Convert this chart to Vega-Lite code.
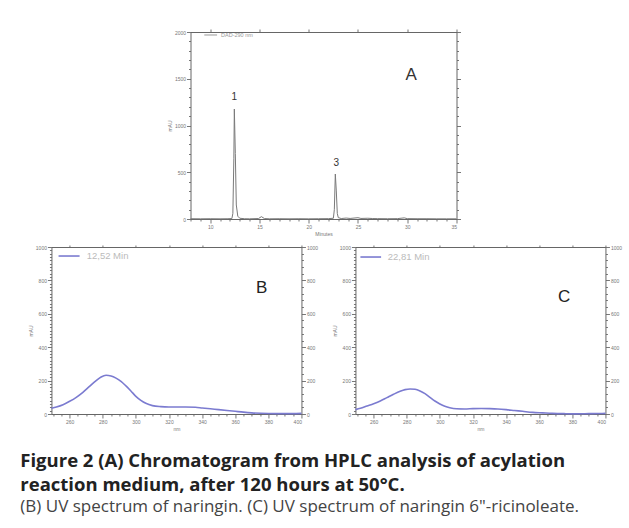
{
  "$schema": "https://vega.github.io/schema/vega-lite/v6.json",
  "padding": {"left": 20, "top": 28, "right": 2, "bottom": 2},
  "background": "white",
  "config": {
    "view": {"stroke": null},
    "font": "Liberation Sans",
    "axis": {
      "grid": false, "labelFont": "Liberation Sans", "titleFont": "Liberation Sans",
      "labelFontSize": 5, "titleFontSize": 5, "labelColor": "#777", "titleColor": "#777",
      "titleFontWeight": "normal", "tickColor": "#777", "domainColor": "#666",
      "labelPadding": 1, "titlePadding": 2, "labelOverlap": false, "format": "d"
    }
  },
  "datasets": {
    "chrom": [
      {"t": 8, "mAU": 3}, {"t": 9, "mAU": 2}, {"t": 10, "mAU": 3}, {"t": 11, "mAU": 2}, {"t": 11.8, "mAU": 3},
      {"t": 12.2, "mAU": 5}, {"t": 12.3, "mAU": 60}, {"t": 12.4, "mAU": 650}, {"t": 12.45, "mAU": 1176},
      {"t": 12.55, "mAU": 700}, {"t": 12.65, "mAU": 150}, {"t": 12.8, "mAU": 30}, {"t": 13, "mAU": 8},
      {"t": 13.5, "mAU": 3}, {"t": 14, "mAU": 2}, {"t": 14.9, "mAU": 5}, {"t": 15.2, "mAU": 25}, {"t": 15.5, "mAU": 5},
      {"t": 16, "mAU": 2}, {"t": 17, "mAU": 3}, {"t": 18, "mAU": 2}, {"t": 19, "mAU": 3}, {"t": 20, "mAU": 2},
      {"t": 21, "mAU": 3}, {"t": 22, "mAU": 4}, {"t": 22.5, "mAU": 8}, {"t": 22.6, "mAU": 100}, {"t": 22.7, "mAU": 481},
      {"t": 22.8, "mAU": 300}, {"t": 22.9, "mAU": 60}, {"t": 23.0, "mAU": 15}, {"t": 23.3, "mAU": 5}, {"t": 23.8, "mAU": 10},
      {"t": 24.2, "mAU": 6}, {"t": 25, "mAU": 14}, {"t": 25.3, "mAU": 6}, {"t": 26, "mAU": 8}, {"t": 26.5, "mAU": 5},
      {"t": 27, "mAU": 4}, {"t": 28, "mAU": 3}, {"t": 29, "mAU": 4}, {"t": 29.7, "mAU": 12}, {"t": 30, "mAU": 4},
      {"t": 31, "mAU": 3}, {"t": 32, "mAU": 3}, {"t": 33, "mAU": 2}, {"t": 34, "mAU": 2}, {"t": 35, "mAU": 2}
    ],
    "labA": [
      {"x": 12.45, "y": 1300, "label": "1", "size": 10},
      {"x": 22.8, "y": 600, "label": "3", "size": 10},
      {"x": 30.4, "y": 1540, "label": "A", "size": 17}
    ],
    "legA": [{"x": 9.4, "x2": 10.7, "y": 1968, "label": "DAD-290 nm", "tx": 11.1}],
    "specB": [
      {"wl": 249, "mAU": 34}, {"wl": 252, "mAU": 42}, {"wl": 256, "mAU": 56}, {"wl": 260, "mAU": 76},
      {"wl": 264, "mAU": 100}, {"wl": 268, "mAU": 130}, {"wl": 272, "mAU": 165}, {"wl": 276, "mAU": 200},
      {"wl": 279, "mAU": 222}, {"wl": 282, "mAU": 232}, {"wl": 285, "mAU": 228}, {"wl": 288, "mAU": 215},
      {"wl": 291, "mAU": 195}, {"wl": 294, "mAU": 168}, {"wl": 297, "mAU": 138}, {"wl": 300, "mAU": 106},
      {"wl": 303, "mAU": 82}, {"wl": 306, "mAU": 64}, {"wl": 310, "mAU": 50}, {"wl": 315, "mAU": 44},
      {"wl": 320, "mAU": 42}, {"wl": 330, "mAU": 42}, {"wl": 336, "mAU": 40}, {"wl": 340, "mAU": 36},
      {"wl": 345, "mAU": 31}, {"wl": 350, "mAU": 26}, {"wl": 355, "mAU": 21}, {"wl": 360, "mAU": 16},
      {"wl": 365, "mAU": 11}, {"wl": 370, "mAU": 7}, {"wl": 380, "mAU": 3}, {"wl": 390, "mAU": 2}, {"wl": 400, "mAU": 4}
    ],
    "specC": [
      {"wl": 249, "mAU": 26}, {"wl": 252, "mAU": 34}, {"wl": 256, "mAU": 48}, {"wl": 260, "mAU": 62},
      {"wl": 264, "mAU": 78}, {"wl": 268, "mAU": 98}, {"wl": 272, "mAU": 118}, {"wl": 276, "mAU": 136},
      {"wl": 279, "mAU": 146}, {"wl": 282, "mAU": 150}, {"wl": 285, "mAU": 148}, {"wl": 288, "mAU": 138},
      {"wl": 291, "mAU": 122}, {"wl": 294, "mAU": 100}, {"wl": 297, "mAU": 78}, {"wl": 300, "mAU": 60},
      {"wl": 303, "mAU": 46}, {"wl": 306, "mAU": 37}, {"wl": 310, "mAU": 31}, {"wl": 315, "mAU": 30},
      {"wl": 320, "mAU": 32}, {"wl": 325, "mAU": 33}, {"wl": 330, "mAU": 32}, {"wl": 335, "mAU": 30},
      {"wl": 340, "mAU": 26}, {"wl": 345, "mAU": 21}, {"wl": 350, "mAU": 16}, {"wl": 356, "mAU": 10},
      {"wl": 362, "mAU": 7}, {"wl": 368, "mAU": 4}, {"wl": 375, "mAU": 2}, {"wl": 381, "mAU": 1},
      {"wl": 390, "mAU": 2}, {"wl": 397, "mAU": 3}, {"wl": 400, "mAU": 4}
    ],
    "labB": [{"x": 376, "y": 754, "label": "B"}],
    "labC": [{"x": 375, "y": 700, "label": "C"}],
    "legB": [{"x": 253.3, "x2": 266, "y": 946, "label": "12,52 Min", "tx": 270.3}],
    "legC": [{"x": 252, "x2": 264.5, "y": 940, "label": "22,81 Min", "tx": 268.5}]
  },
  "title": {
    "text": ["Figure 2 (A) Chromatogram from HPLC analysis of acylation", "reaction medium, after 120 hours at 50°C."],
    "subtitle": "(B) UV spectrum of naringin. (C) UV spectrum of naringin 6\"-ricinoleate.",
    "orient": "bottom", "anchor": "start", "frame": "bounds", "dx": -8,
    "font": "Open Sans", "fontSize": 18.5, "fontWeight": "bold", "color": "#222", "lineHeight": 23.5,
    "subtitleFont": "Open Sans", "subtitleFontSize": 17, "subtitleColor": "#444", "subtitleLineHeight": 22,
    "subtitlePadding": 5, "offset": 21
  },
  "vconcat": [
    {
      "width": 266, "height": 187,
      "resolve": {"axis": {"x": "independent", "y": "independent"}},
      "layer": [
        {
          "data": {"name": "chrom"},
          "mark": {"type": "line", "color": "#7a7a7a", "strokeWidth": 1},
          "encoding": {
            "x": {"field": "t", "type": "quantitative", "scale": {"domain": [8, 35], "nice": false, "zero": false},
              "axis": {"orient": "bottom", "title": "Minutes",
                "values": [8,9,10,11,12,13,14,15,16,17,18,19,20,21,22,23,24,25,26,27,28,29,30,31,32,33,34,35],
                "labelExpr": "datum.value % 5 === 0 ? datum.label : ''",
                "tickSize": {"condition": {"test": "datum.value % 5 === 0", "value": 4}, "value": 2}}},
            "y": {"field": "mAU", "type": "quantitative", "scale": {"domain": [0, 2000], "nice": false},
              "axis": {"orient": "left", "title": "mAU",
                "values": [0,100,200,300,400,500,600,700,800,900,1000,1100,1200,1300,1400,1500,1600,1700,1800,1900,2000],
                "labelExpr": "datum.value % 500 === 0 ? datum.label : ''",
                "tickSize": {"condition": {"test": "datum.value % 500 === 0", "value": 4}, "value": 2}}}
          }
        },
        {
          "data": {"name": "labA"},
          "mark": {"type": "text", "color": "#333", "baseline": "middle", "font": "Liberation Sans"},
          "encoding": {
            "x": {"field": "x", "type": "quantitative",
              "axis": {"orient": "top", "title": null, "labels": false,
                "values": [10,15,20,25,30,35], "tickSize": 3}},
            "y": {"field": "y", "type": "quantitative",
              "axis": {"orient": "right", "title": null, "labels": false, "minExtent": 26,
                "values": [0,100,200,300,400,500,600,700,800,900,1000,1100,1200,1300,1400,1500,1600,1700,1800,1900,2000],
                "tickSize": {"condition": {"test": "datum.value % 500 === 0", "value": 4}, "value": 2}}},
            "text": {"field": "label"},
            "size": {"field": "size", "type": "quantitative", "scale": null}
          }
        },
        {
          "data": {"name": "legA"},
          "mark": {"type": "rule", "color": "#999", "strokeWidth": 1},
          "encoding": {
            "x": {"field": "x", "type": "quantitative", "axis": null},
            "x2": {"field": "x2"},
            "y": {"field": "y", "type": "quantitative", "axis": null}
          }
        },
        {
          "data": {"name": "legA"},
          "mark": {"type": "text", "color": "#999", "fontSize": 5.5, "align": "left", "baseline": "middle"},
          "encoding": {
            "x": {"field": "tx", "type": "quantitative", "axis": null},
            "y": {"field": "y", "type": "quantitative", "axis": null},
            "text": {"field": "label"}
          }
        }
      ]
    },
    {
      "spacing": 13,
      "hconcat": [
        {
          "width": 250, "height": 167,
          "resolve": {"axis": {"x": "independent", "y": "independent"}},
          "layer": [
            {
              "data": {"name": "specB"},
              "mark": {"type": "line", "color": "#7b7bd0", "strokeWidth": 1.6, "interpolate": "monotone"},
              "encoding": {
                "x": {"field": "wl", "type": "quantitative", "scale": {"domain": [249, 400], "nice": false, "zero": false},
                  "axis": {"orient": "bottom", "title": "nm",
                    "values": [250,255,260,265,270,275,280,285,290,295,300,305,310,315,320,325,330,335,340,345,350,355,360,365,370,375,380,385,390,395,400],
                    "labelExpr": "datum.value % 20 === 0 ? datum.label : ''",
                    "tickSize": {"condition": {"test": "datum.value % 20 === 0", "value": 4}, "value": 2}}},
                "y": {"field": "mAU", "type": "quantitative", "scale": {"domain": [0, 1000], "nice": false},
                  "axis": {"orient": "left", "title": "mAU",
                    "values": [0,20,40,60,80,100,120,140,160,180,200,220,240,260,280,300,320,340,360,380,400,420,440,460,480,500,520,540,560,580,600,620,640,660,680,700,720,740,760,780,800,820,840,860,880,900,920,940,960,980,1000],
                    "labelExpr": "datum.value % 200 === 0 ? datum.label : ''",
                    "tickSize": {"condition": {"test": "datum.value % 200 === 0", "value": 4}, "value": 2}}}
              }
            },
            {
              "data": {"name": "labB"},
              "mark": {"type": "text", "color": "#222", "fontSize": 17, "baseline": "middle"},
              "encoding": {
                "x": {"field": "x", "type": "quantitative",
                  "axis": {"orient": "top", "title": null, "labels": false, "values": [260,280,300,320,340,360,380,400], "tickSize": 2}},
                "y": {"field": "y", "type": "quantitative",
                  "axis": {"orient": "right", "title": null,
                    "values": [0,40,80,120,160,200,240,280,320,360,400,440,480,520,560,600,640,680,720,760,800,840,880,920,960,1000],
                    "labelExpr": "datum.value % 200 === 0 ? datum.label : ''",
                    "tickSize": {"condition": {"test": "datum.value % 200 === 0", "value": 4}, "value": 2}}},
                "text": {"field": "label"}
              }
            },
            {
              "data": {"name": "legB"},
              "mark": {"type": "rule", "color": "#7b7bd0", "strokeWidth": 1.6},
              "encoding": {
                "x": {"field": "x", "type": "quantitative", "axis": null},
                "x2": {"field": "x2"},
                "y": {"field": "y", "type": "quantitative", "axis": null}
              }
            },
            {
              "data": {"name": "legB"},
              "mark": {"type": "text", "color": "#bbb", "fontSize": 9.5, "align": "left", "baseline": "middle"},
              "encoding": {
                "x": {"field": "tx", "type": "quantitative", "axis": null},
                "y": {"field": "y", "type": "quantitative", "axis": null},
                "text": {"field": "label"}
              }
            }
          ]
        },
        {
          "width": 250, "height": 167,
          "resolve": {"axis": {"x": "independent", "y": "independent"}},
          "layer": [
            {
              "data": {"name": "specC"},
              "mark": {"type": "line", "color": "#7b7bd0", "strokeWidth": 1.6, "interpolate": "monotone"},
              "encoding": {
                "x": {"field": "wl", "type": "quantitative", "scale": {"domain": [249, 400], "nice": false, "zero": false},
                  "axis": {"orient": "bottom", "title": "nm",
                    "values": [250,255,260,265,270,275,280,285,290,295,300,305,310,315,320,325,330,335,340,345,350,355,360,365,370,375,380,385,390,395,400],
                    "labelExpr": "datum.value % 20 === 0 ? datum.label : ''",
                    "tickSize": {"condition": {"test": "datum.value % 20 === 0", "value": 4}, "value": 2}}},
                "y": {"field": "mAU", "type": "quantitative", "scale": {"domain": [0, 1000], "nice": false},
                  "axis": {"orient": "left", "title": "mAU",
                    "values": [0,20,40,60,80,100,120,140,160,180,200,220,240,260,280,300,320,340,360,380,400,420,440,460,480,500,520,540,560,580,600,620,640,660,680,700,720,740,760,780,800,820,840,860,880,900,920,940,960,980,1000],
                    "labelExpr": "datum.value % 200 === 0 ? datum.label : ''",
                    "tickSize": {"condition": {"test": "datum.value % 200 === 0", "value": 4}, "value": 2}}}
              }
            },
            {
              "data": {"name": "labC"},
              "mark": {"type": "text", "color": "#222", "fontSize": 17, "baseline": "middle"},
              "encoding": {
                "x": {"field": "x", "type": "quantitative",
                  "axis": {"orient": "top", "title": null, "labels": false, "values": [260,280,300,320,340,360,380,400], "tickSize": 2}},
                "y": {"field": "y", "type": "quantitative",
                  "axis": {"orient": "right", "title": null,
                    "values": [0,40,80,120,160,200,240,280,320,360,400,440,480,520,560,600,640,680,720,760,800,840,880,920,960,1000],
                    "labelExpr": "datum.value % 200 === 0 ? datum.label : ''",
                    "tickSize": {"condition": {"test": "datum.value % 200 === 0", "value": 4}, "value": 2}}},
                "text": {"field": "label"}
              }
            },
            {
              "data": {"name": "legC"},
              "mark": {"type": "rule", "color": "#7b7bd0", "strokeWidth": 1.6},
              "encoding": {
                "x": {"field": "x", "type": "quantitative", "axis": null},
                "x2": {"field": "x2"},
                "y": {"field": "y", "type": "quantitative", "axis": null}
              }
            },
            {
              "data": {"name": "legC"},
              "mark": {"type": "text", "color": "#bbb", "fontSize": 9.5, "align": "left", "baseline": "middle"},
              "encoding": {
                "x": {"field": "tx", "type": "quantitative", "axis": null},
                "y": {"field": "y", "type": "quantitative", "axis": null},
                "text": {"field": "label"}
              }
            }
          ]
        }
      ]
    }
  ],
  "spacing": 8,
  "center": true
}
